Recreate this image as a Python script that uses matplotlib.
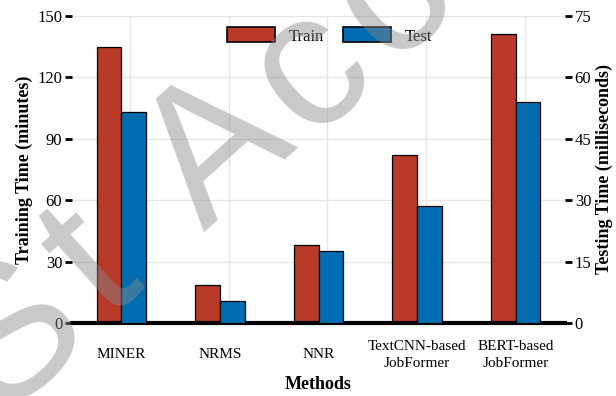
import numpy as np
import matplotlib.pyplot as plt
from matplotlib.patches import Patch

# Données
methods = ["MINER", "NRMS", "NNR", "TextCNN-based\nJobFormer", "BERT-based\nJobFormer"]
train_minutes = [135, 18.5, 38, 82, 141]
test_ms = [51.5, 5.3, 17.6, 28.6, 54]

train_color = "#B93A28"
test_color = "#006DB3"

W, H = 616, 396
plt.rcParams['font.family'] = ['Liberation Serif', 'DejaVu Serif']

fig = plt.figure(figsize=(W / 100, H / 100), dpi=100)
ax = fig.add_axes([72 / W, 1 - 323 / H, 493 / W, 307 / H])
ax2 = ax.twinx()

x = np.arange(len(methods))
w = 0.25

# Grille
for v in [0, 30, 60, 90, 120, 150]:
    ax.axhline(v, color='#e6e6e6', lw=1, zorder=0)
for i in x:
    ax.axvline(i + 0.09, color='#e6e6e6', lw=1, zorder=0)

ax.bar(x - w / 2, train_minutes, w, color=train_color, edgecolor='black', lw=0.9, zorder=2)
ax2.bar(x + w / 2, test_ms, w, color=test_color, edgecolor='black', lw=0.9, zorder=2)

ax.set_xlim(-0.5, 4.5)
ax.set_ylim(0, 150)
ax2.set_ylim(0, 75)
ax.set_yticks([0, 30, 60, 90, 120, 150])
ax2.set_yticks([0, 15, 30, 45, 60, 75])
ax.set_xticks(x)
ax.set_xticklabels(methods, fontsize=11, va='center', linespacing=1.45)

for a in (ax, ax2):
    for s in ['top', 'left', 'right', 'bottom']:
        a.spines[s].set_visible(False)
ax.axhline(0, color='black', lw=3, zorder=5, clip_on=False)

ax.tick_params(axis='x', length=0, pad=23)
ax.tick_params(axis='y', length=5, width=2, pad=2, labelsize=12)
ax2.tick_params(axis='y', length=5, width=2, pad=2, labelsize=12)

ax.set_xlabel("Methods", fontsize=13, fontweight='bold', labelpad=4)
ax.set_ylabel("Training Time (minutes)", fontsize=13, fontweight='bold', labelpad=3)
ax2.set_ylabel("Testing Time (milliseconds)", fontsize=13, fontweight='bold', labelpad=3)

handles = [Patch(facecolor=train_color, edgecolor='black', lw=1.2, label='Train'),
           Patch(facecolor=test_color, edgecolor='black', lw=1.2, label='Test')]
ax2.legend(handles=handles, loc='center', bbox_to_anchor=(0.522, 0.935), ncol=2,
           frameon=False, fontsize=12, handlelength=2.9, handleheight=1.0,
           handletextpad=0.8, columnspacing=1.15, borderpad=0)

# Filigrane : lettres posées une à une le long d'une ligne inclinée
angle = 42
ux, uy = np.cos(np.radians(angle)), -np.sin(np.radians(angle))
x0, y0 = 251, 190  # pied du "A" (pixels)
for letter, d in [("S", -275), ("t", -168), ("A", 0), ("c", 125), ("c", 235)]:
    px, py = x0 + d * ux, y0 + d * uy
    fig.text(px / W, 1 - py / H, letter, rotation=angle, rotation_mode='anchor',
             ha='center', va='baseline', fontsize=138, family='Liberation Sans',
             color='#888888', alpha=0.45, zorder=10)

fig.savefig("out.png", dpi=100)
